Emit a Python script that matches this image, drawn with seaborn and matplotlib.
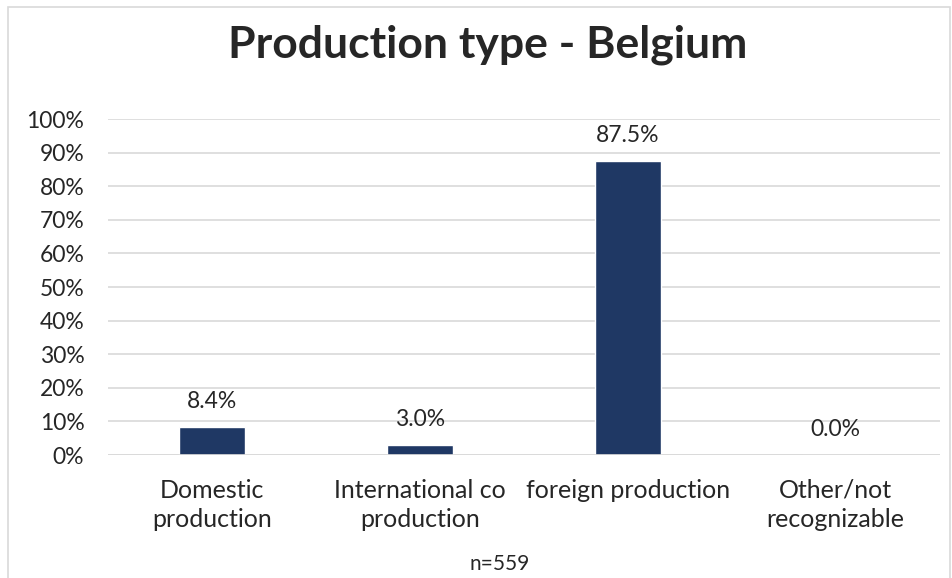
import matplotlib
matplotlib.use("Agg")
import matplotlib.pyplot as plt
import seaborn as sns
import pandas as pd
from matplotlib.patches import Rectangle

categories = ["Domestic\nproduction", "International co\nproduction",
              "foreign production", "Other/not\nrecognizable"]
shares = [8.4, 3.0, 87.5, 0.0]
yticks = [0, 10, 20, 30, 40, 50, 60, 70, 80, 90, 100]

sns.set_style("white")
plt.rcParams['font.family'] = ['Lato', 'DejaVu Sans']

df = pd.DataFrame({"cat": categories, "share": shares})

fig = plt.figure(figsize=(9.53, 5.78), dpi=100)
ax = fig.add_axes([0.1133, 0.2128, 0.8727, 0.5813])

sns.barplot(data=df, x="cat", y="share", color="#1F3864", width=0.32,
            saturation=1, ax=ax)

ax.set_ylim(0, 100)
ax.set_yticks(yticks)
ax.set_yticklabels([f"{t}%" for t in yticks], fontsize=16.5)
ax.yaxis.grid(True, color="#D9D9D9", linewidth=1.2)
ax.set_axisbelow(True)
for s in ax.spines.values():
    s.set_visible(False)
ax.tick_params(axis="y", length=0, pad=17)
ax.tick_params(axis="x", length=0, pad=17, labelsize=18)
for t in ax.get_xticklabels():
    t.set_linespacing(1.35)
ax.set_xlabel("")
ax.set_ylabel("")
ax.axhline(0, color="#D9D9D9", linewidth=1.2)

ax.bar_label(ax.containers[0], labels=[f"{v:.1f}%" for v in shares],
             padding=11, fontsize=16.5)

fig.text(0.5115, 0.922, "Production type - Belgium", ha="center", va="center",
         fontsize=32, fontweight="bold")
fig.text(0.524, 0.024, "n=559", ha="center", va="center", fontsize=15)

fig.patches.append(Rectangle((0.008, -0.1), 0.989, 1.088, transform=fig.transFigure,
                             fill=False, edgecolor="#D9D9D9", linewidth=1.2))

fig.savefig("out.png", dpi=100)
